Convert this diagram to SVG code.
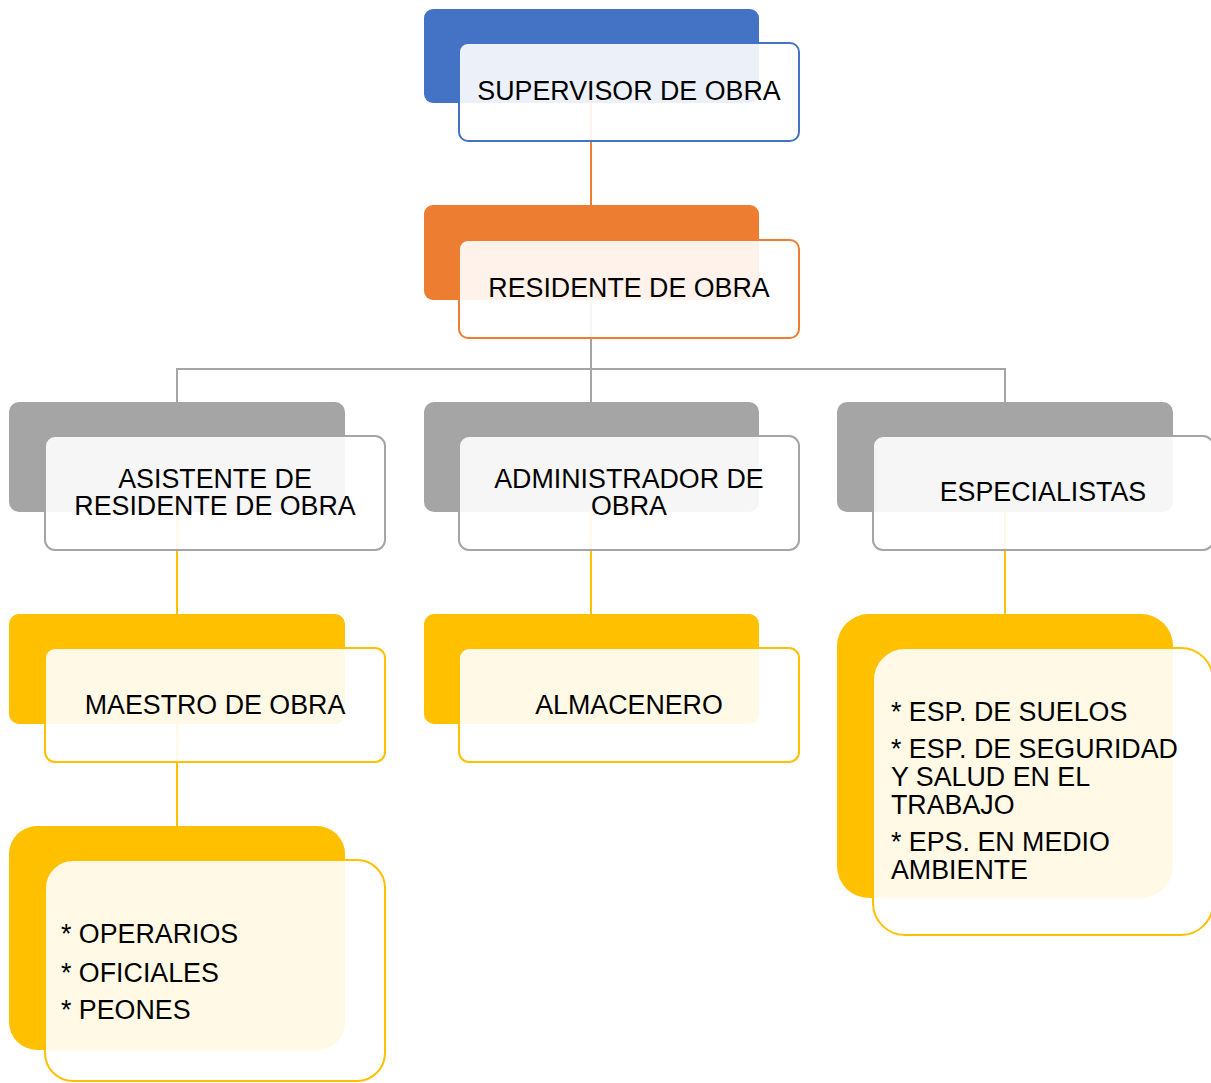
<svg xmlns="http://www.w3.org/2000/svg" width="1211" height="1083" viewBox="0 0 1211 1083">
<style>
text{font-family:"Liberation Sans",Arial,sans-serif;font-size:26.8px;fill:#000}
.c{text-anchor:middle}
.front{fill:#fff;fill-opacity:0.9;stroke-width:2}
.line{fill:none;stroke-width:2}
.blue{fill:#4472C4}.orange{fill:#ED7D31}.gray{fill:#A5A5A5}.gold{fill:#FFC000}
</style>
<rect width="1211" height="1083" fill="#fff"/>
<g id="connectors">
<path class="line" stroke="#ED7D31" d="M591 103V205"/>
<path class="line" stroke="#A5A5A5" d="M591 300V369M177 402V369H1005V402M591 369V402"/>
<path class="line" stroke="#FFC000" d="M177 512V614M591 512V614M1005 512V614M177 724V826"/>
</g>
<g id="supervisor">
<rect class="blue" x="424" y="9" width="335" height="94" rx="9"/>
<rect class="front" stroke="#4472C4" x="459" y="43" width="340" height="98" rx="9"/>
<text class="c" x="629" y="100">SUPERVISOR DE OBRA</text>
</g>
<g id="residente">
<rect class="orange" x="424" y="205" width="335" height="95" rx="9"/>
<rect class="front" stroke="#ED7D31" x="459" y="240" width="340" height="98" rx="9"/>
<text class="c" x="629" y="297">RESIDENTE DE OBRA</text>
</g>
<g id="asistente">
<rect class="gray" x="9" y="402" width="336" height="110" rx="10"/>
<rect class="front" stroke="#A5A5A5" x="45" y="436" width="340" height="114" rx="10"/>
<text class="c" x="215" y="488">ASISTENTE DE</text>
<text class="c" x="215" y="515">RESIDENTE DE OBRA</text>
</g>
<g id="administrador">
<rect class="gray" x="424" y="402" width="335" height="110" rx="10"/>
<rect class="front" stroke="#A5A5A5" x="459" y="436" width="340" height="114" rx="10"/>
<text class="c" x="629" y="488">ADMINISTRADOR DE</text>
<text class="c" x="629" y="515">OBRA</text>
</g>
<g id="especialistas">
<rect class="gray" x="837" y="402" width="336" height="110" rx="10"/>
<rect class="front" stroke="#A5A5A5" x="873" y="436" width="340" height="114" rx="10"/>
<text class="c" x="1043" y="501">ESPECIALISTAS</text>
</g>
<g id="maestro">
<rect class="gold" x="9" y="614" width="336" height="110" rx="10"/>
<rect class="front" stroke="#FFC000" x="45" y="648" width="340" height="114" rx="10"/>
<text class="c" x="215" y="714">MAESTRO DE OBRA</text>
</g>
<g id="almacenero">
<rect class="gold" x="424" y="614" width="335" height="110" rx="10"/>
<rect class="front" stroke="#FFC000" x="459" y="648" width="340" height="114" rx="10"/>
<text class="c" x="629" y="714">ALMACENERO</text>
</g>
<g id="especialistas-lista">
<rect class="gold" x="837" y="614" width="336" height="284" rx="32"/>
<rect class="front" stroke="#FFC000" x="873" y="648" width="340" height="287" rx="32"/>
<text x="891" y="721">* ESP. DE SUELOS</text>
<text x="891" y="758">* ESP. DE SEGURIDAD</text>
<text x="891" y="786">Y SALUD EN EL</text>
<text x="891" y="814">TRABAJO</text>
<text x="891" y="851">* EPS. EN MEDIO</text>
<text x="891" y="879">AMBIENTE</text>
</g>
<g id="operarios">
<rect class="gold" x="9" y="826" width="336" height="224" rx="28"/>
<rect class="front" stroke="#FFC000" x="45" y="860" width="340" height="221" rx="28"/>
<text x="61" y="943">* OPERARIOS</text>
<text x="61" y="982">* OFICIALES</text>
<text x="61" y="1019">* PEONES</text>
</g>
</svg>
